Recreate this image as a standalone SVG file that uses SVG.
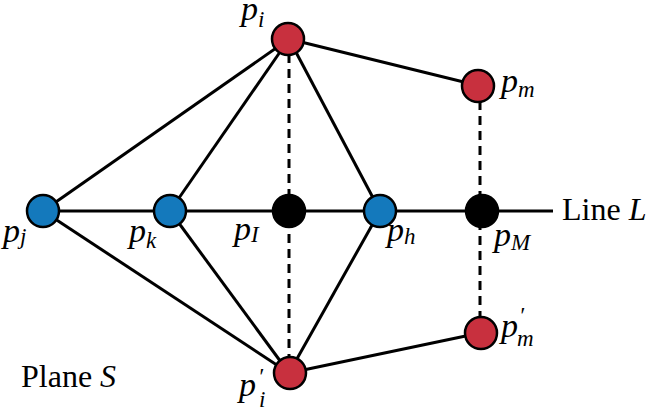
<svg xmlns="http://www.w3.org/2000/svg" width="664" height="418" viewBox="0 0 664 418">
<style>
.e{stroke:#000;stroke-width:3;fill:none}
.d{stroke:#000;stroke-width:3;fill:none;stroke-dasharray:9,6}
.r{fill:#c8303e;stroke:#000;stroke-width:2.5}
.b{fill:#1479bc;stroke:#000;stroke-width:2.5}
.k{fill:#000;stroke:#000;stroke-width:2.5}
</style>
<rect width="664" height="418" fill="#fff"/>
<g id="connectors">
<line class="e" x1="43" y1="211" x2="553" y2="211"/>
<line class="e" x1="289" y1="39" x2="43" y2="211"/>
<line class="e" x1="289" y1="39" x2="170" y2="211"/>
<line class="e" x1="289" y1="39" x2="380" y2="211"/>
<line class="e" x1="289" y1="39" x2="480" y2="86"/>
<line class="e" x1="289" y1="373" x2="43" y2="211"/>
<line class="e" x1="289" y1="373" x2="170" y2="211"/>
<line class="e" x1="289" y1="373" x2="380" y2="211"/>
<line class="e" x1="289" y1="373" x2="480" y2="333"/>
<line class="d" x1="289" y1="39" x2="289" y2="373"/>
<line class="d" x1="480" y1="86" x2="480" y2="333"/>
</g>
<g font-family="Liberation Serif, DejaVu Serif, serif" font-style="italic" font-size="34" fill="#000">
<g id="pi"><circle class="r" cx="288" cy="39" r="16"/><text x="241" y="20">p<tspan font-size="23" dy="7">i</tspan></text></g>
<g id="pm"><circle class="r" cx="478" cy="86" r="16"/><text x="501" y="92">p<tspan font-size="23" dy="5">m</tspan></text></g>
<g id="pj"><circle class="b" cx="43" cy="211" r="16"/><text x="3" y="242">p<tspan font-size="23" dy="2">j</tspan></text></g>
<g id="pk"><circle class="b" cx="170" cy="211" r="16"/><text x="129" y="242">p<tspan font-size="23" dy="6">k</tspan></text></g>
<g id="pI"><circle class="k" cx="289" cy="211" r="16"/><text x="234" y="240">p<tspan font-size="23" dy="2">I</tspan></text></g>
<g id="ph"><circle class="b" cx="380" cy="211" r="16"/><text x="387" y="241">p<tspan font-size="23" dy="3">h</tspan></text></g>
<g id="pM"><circle class="k" cx="482" cy="211" r="16"/><text x="494" y="246">p<tspan font-size="23" dy="4">M</tspan></text></g>
<g id="pi2"><circle class="r" cx="290" cy="373" r="16"/><text x="239" y="396">p<tspan font-size="23" x="258" y="384">′</tspan><tspan font-size="23" x="259" y="407">i</tspan></text></g>
<g id="pm2"><circle class="r" cx="481" cy="333" r="16"/><text x="501" y="337">p<tspan font-size="23" x="519" y="323">′</tspan><tspan font-size="23" x="517" y="346">m</tspan></text></g>
<g id="lineL"><text x="562" y="220" font-size="32" font-style="normal">Line <tspan font-style="italic">L</tspan></text></g>
<g id="planeS"><text x="21" y="387" font-size="32" font-style="normal">Plane <tspan font-style="italic">S</tspan></text></g>
</g>
</svg>
